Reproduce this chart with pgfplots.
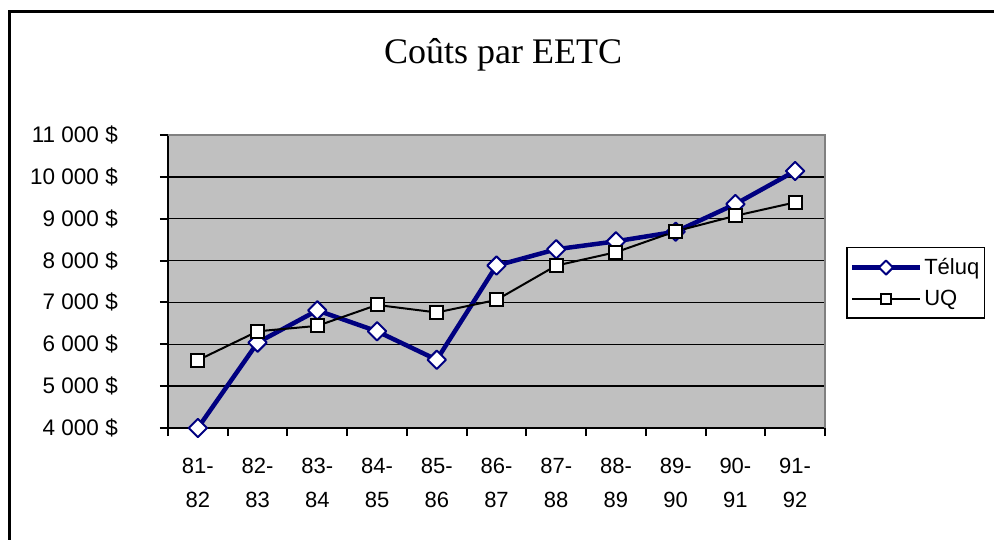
\documentclass[border=0pt]{standalone}
\usepackage{fontspec}
\setmainfont{Liberation Sans}
\newfontfamily\titlefont{Liberation Serif}
\usepackage{pgfplots}
\pgfplotsset{compat=1.18}
\definecolor{plotgray}{HTML}{C0C0C0}
\definecolor{navyblue}{HTML}{000080}
\definecolor{bordergray}{HTML}{808080}
\pgfplotstableread{
x teluq uq
0 4000 5620
1 6040 6310
2 6810 6440
3 6310 6940
4 5630 6760
5 7880 7060
6 8270 7880
7 8460 8200
8 8690 8700
9 9350 9070
10 10140 9390
}\costdata
\begin{document}
\begin{tikzpicture}
\useasboundingbox (0,0) rectangle (994pt,539pt);
\draw[line width=3pt] (9.5pt,-5pt) -- (9.5pt,527pt) -- (1000pt,527pt);
\node[font=\titlefont\fontsize{36}{42}\selectfont] at (503pt,484pt) {Coûts par EETC};
\begin{axis}[
  at={(168pt,111pt)}, anchor=south west, scale only axis,
  width=657pt, height=293pt,
  xmin=-0.5, xmax=10.5, ymin=4000, ymax=11000,
  clip=false,
  scaled y ticks=false,
  axis background/.style={fill=plotgray},
  axis x line*=bottom, axis y line*=left,
  axis line style={line width=2pt, -},
  tick align=outside,
  xtick={0,...,10},
  xticklabels={81-\\82,82-\\83,83-\\84,84-\\85,85-\\86,86-\\87,87-\\88,88-\\89,89-\\90,90-\\91,91-\\92},
  major x tick style={draw=none},
  minor xtick={-0.5,0.5,1.5,2.5,3.5,4.5,5.5,6.5,7.5,8.5,9.5,10.5},
  minor tick length=8pt,
  minor tick style={line width=2pt, black},
  ytick={4000,5000,...,11000},
  yticklabels={4 000 \$,5 000 \$,6 000 \$,7 000 \$,8 000 \$,9 000 \$,10 000 \$,11 000 \$},
  major tick length=8pt,
  major y tick style={line width=2pt, black},
  ymajorgrids,
  major grid style={black, line width=1.5pt},
  xticklabel style={align=center, font=\fontsize{22}{34}\selectfont, inner sep=0pt, yshift=-22pt},
  yticklabel style={font=\fontsize{22.5}{26}\selectfont, inner sep=0pt, xshift=-42pt},
  legend style={at={(1.032,0.618)}, anchor=north west, draw=black, line width=1.5pt,
    fill=white, inner xsep=3pt, inner ysep=9pt,
    font=\fontsize{22}{26}\selectfont, row sep=10pt,
    nodes={inner sep=2pt}},
  legend cell align=left,
  legend image code/.code={\draw[mark repeat=2, mark phase=2, mark size=5pt] plot coordinates {(0pt,0pt) (34pt,0pt) (68pt,0pt)};},
]
\addplot[navyblue, line width=4.5pt, line join=round, mark=square*, mark size=6.5pt,
  mark options={rotate=45, fill=white, draw=navyblue, line width=2pt, solid}]
  table[x=x, y=teluq] {\costdata};
\addlegendentry{Téluq}
\addplot[black, line width=2pt, mark=square*, mark size=6.5pt,
  mark options={fill=white, draw=black, line width=2pt, solid}]
  table[x=x, y=uq] {\costdata};
\addlegendentry{UQ}
\draw[bordergray, line width=1.5pt] (rel axis cs:0,1) -- (rel axis cs:1,1) -- (rel axis cs:1,0);
\end{axis}
\end{tikzpicture}
\end{document}
